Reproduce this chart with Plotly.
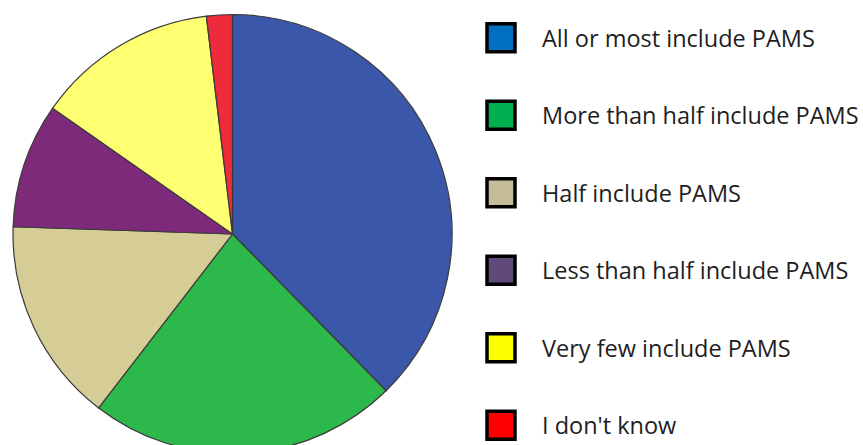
import plotly.graph_objects as go

# Survey responses: share of courses that include PAMS (%)
labels = [
    "All or most include PAMS",
    "More than half include PAMS",
    "Half include PAMS",
    "Less than half include PAMS",
    "Very few include PAMS",
    "I don't know",
]
shares = [37.7, 22.8, 15.1, 9.2, 13.4, 1.9]

slice_colors = ["#3B57A9", "#2DB84B", "#D6CC96", "#7D2A7B", "#FFFF72", "#EE2B3B"]
key_colors = ["#0070C0", "#00B050", "#C4BD97", "#604A7B", "#FFFF00", "#FF0000"]

W, H = 863, 460


def fx(px):
    return px / W


def fy(py):
    return 1 - py / H


fig = go.Figure()
fig.add_trace(go.Pie(
    labels=labels,
    values=shares,
    sort=False,
    direction="clockwise",
    rotation=0,
    textinfo="none",
    hoverinfo="label+percent",
    marker=dict(colors=slice_colors, line=dict(color="#3a3a3a", width=1.2)),
    domain=dict(x=[fx(13), fx(452)], y=[fy(453.5), fy(14.5)]),
    showlegend=False,
))

# Key on the right: swatch plus label per category
shapes = []
annotations = []
top, step, box = 37.7, 77.5, 28
for i, (lab, col) in enumerate(zip(labels, key_colors)):
    cy = top + i * step
    shapes.append(dict(
        type="rect", xref="paper", yref="paper",
        x0=fx(487), x1=fx(487 + box), y0=fy(cy + box / 2), y1=fy(cy - box / 2),
        fillcolor=col, line=dict(color="#000000", width=3.5),
    ))
    annotations.append(dict(
        xref="paper", yref="paper", x=fx(540), y=fy(cy),
        xanchor="left", yanchor="middle", showarrow=False,
        text=lab, font=dict(family="Open Sans", size=23.5, color="#1e1e1e"),
    ))

fig.update_layout(
    width=W, height=H,
    margin=dict(l=0, r=0, t=0, b=0),
    paper_bgcolor="white", plot_bgcolor="white",
    shapes=shapes, annotations=annotations,
)

fig.write_html(
    "out.html",
    post_script="document.documentElement.style.overflow='hidden';document.body.style.overflow='hidden';",
)
